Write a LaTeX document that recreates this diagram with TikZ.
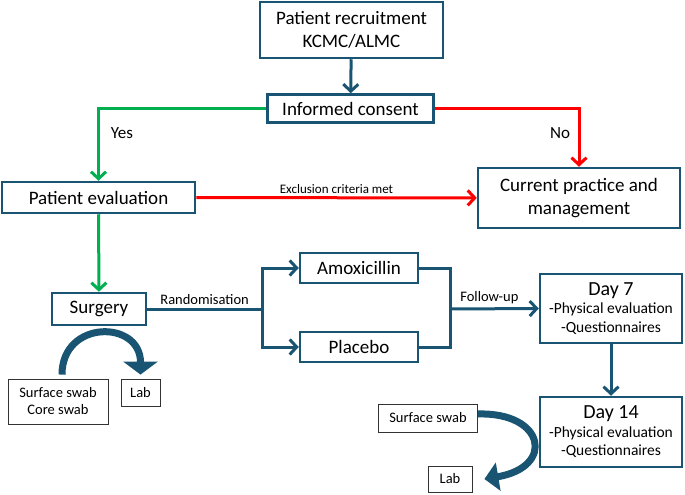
\documentclass[tikz,border=0pt]{standalone}
\usepackage{fontspec}
\setmainfont{Carlito}
\usepackage{tikz}
\usetikzlibrary{arrows,arrows.meta,shapes,positioning}
\usepackage{xcolor}
\definecolor{trteal}{RGB}{25,85,115}
\definecolor{trgreen}{RGB}{0,176,80}
\definecolor{trred}{RGB}{255,0,0}
\tikzstyle{process} = [rectangle, text centered, align=center, draw=trteal, fill=white, line width=2.5pt, inner sep=0pt, font=\fontsize{19}{23}\selectfont]
\tikzstyle{dayblock} = [process, font=\fontsize{15.5}{18.5}\selectfont]
\tikzstyle{sample} = [rectangle, text centered, align=center, draw=black!80, fill=white, line width=0.8pt, inner sep=0pt, font=\fontsize{14.5}{17}\selectfont]
\tikzstyle{arrow} = [line width=3pt,-{Straight Barb[length=7pt,width=15pt]},color=trteal]
\tikzstyle{flow} = [line width=3pt,color=trteal]
\tikzstyle{yesarrow} = [arrow,color=trgreen]
\tikzstyle{noarrow} = [arrow,color=trred]
\tikzstyle{curved} = [line width=7pt,color=trteal,-{Triangle[width=34pt,length=13pt]}]
\tikzstyle{tag} = [text=black, font=\fontsize{14.5}{17}\selectfont]

\begin{document}
\begin{tikzpicture}[x=1pt, y=-1pt]
\useasboundingbox (0,0) rectangle (685,495);

\node (recruit) [process, minimum width=183pt, minimum height=56pt] at (351.5,30) {Patient recruitment\\KCMC/ALMC};
\node (consent) [process, minimum width=166pt, minimum height=28pt] at (350.5,108.5) {Informed consent};
\node (evaluation) [process, minimum width=193pt, minimum height=31pt] at (98.5,197.5) {Patient evaluation};
\node (practice) [process, minimum width=202pt, minimum height=60pt] at (579,198) {Current practice and\\management};
\node (surgery) [process, minimum width=94pt, minimum height=32pt] at (99,309) {Surgery};
\node (amox) [process, minimum width=118pt, minimum height=30pt] at (359,268) {Amoxicillin};
\node (placebo) [process, minimum width=118pt, minimum height=30pt] at (359,347) {Placebo};
\node (day7) [dayblock, minimum width=142pt, minimum height=69pt] at (611,308.5) {{\fontsize{20}{22}\selectfont Day 7}\\-Physical evaluation\\-Questionnaires};
\node (day14) [dayblock, minimum width=142pt, minimum height=70pt] at (611,432) {{\fontsize{20}{22}\selectfont Day 14}\\-Physical evaluation\\-Questionnaires};
\node (swabs) [sample, minimum width=100pt, minimum height=45pt] at (58,401.5) {Surface swab\\Core swab};
\node (lab1) [sample, minimum width=39pt, minimum height=27pt] at (140.5,392.5) {Lab};
\node (swab2) [sample, minimum width=99pt, minimum height=28pt] at (428,418) {Surface swab};
\node (lab2) [sample, minimum width=44pt, minimum height=26pt] at (450,479) {Lab};

\node (yes) [font=\fontsize{17}{20}\selectfont] at (122,133) {Yes};
\node (no) [font=\fontsize{17}{20}\selectfont] at (560,133) {No};

\coordinate (split) at (262,309);
\coordinate (merge) at (450,309);

% main flow
\draw[arrow] (recruit) -- (consent);
\draw[yesarrow] (consent.west) -| (evaluation.north);
\draw[noarrow] (consent.east) -| (practice.north);
\draw[noarrow] (evaluation) -- node[above, tag, font=\fontsize{13}{15}\selectfont, yshift=-1pt] {Exclusion criteria met} (practice);
\draw[yesarrow] (evaluation) -- (surgery);

% randomisation and follow-up
\draw[flow] (surgery.east) -- node[above, tag] {Randomisation} (split);
\draw[arrow] (split) |- (amox.west);
\draw[arrow] (split) |- (placebo.west);
\draw[flow] (amox.east) -| (merge);
\draw[flow] (placebo.east) -| (merge);
\draw[arrow] (merge) -- node[above, tag, xshift=-5pt] {Follow-up} (day7.west);
\draw[arrow] (day7) -- (day14);

% samples to lab
\draw[curved] ([xshift=4pt,yshift=4pt]swabs.north) .. controls +(0,-55) and +(0,-55) .. ([yshift=4pt]lab1.north);
\draw[curved, -{Triangle[width=28pt,length=14pt]}] ([yshift=4pt]swab2.east) .. controls +(67,-2) and +(71,-12) .. ([xshift=12pt]lab2.east);
\end{tikzpicture}
\end{document}
